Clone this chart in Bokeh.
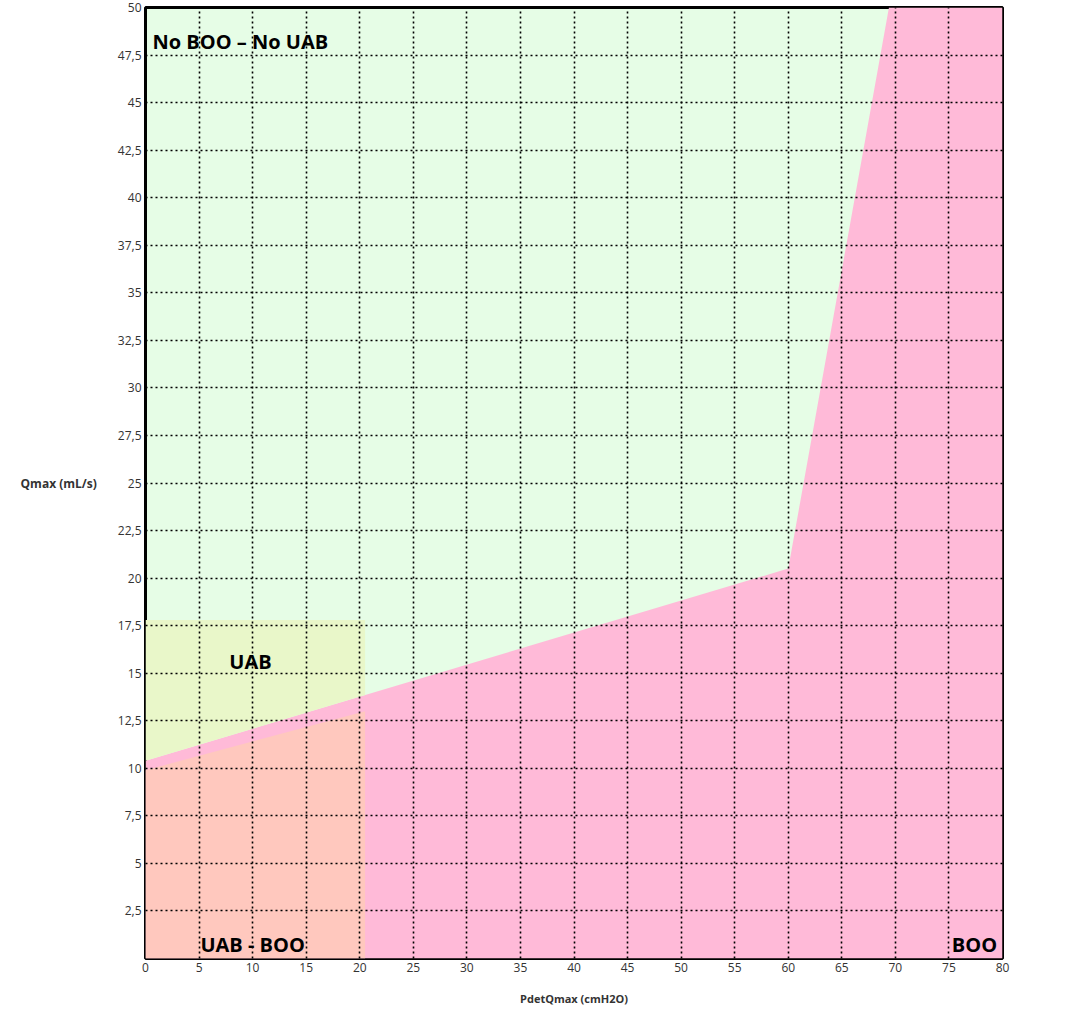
from bokeh.plotting import figure
from bokeh.models import FixedTicker, Label
from bokeh.embed import file_html
from bokeh.resources import INLINE

# --- data ---
x_ticks = [0, 5, 10, 15, 20, 25, 30, 35, 40, 45, 50, 55, 60, 65, 70, 75, 80]
y_ticks = [2.5, 5, 7.5, 10, 12.5, 15, 17.5, 20, 22.5, 25, 27.5, 30, 32.5, 35,
           37.5, 40, 42.5, 45, 47.5, 50]
y_tick_labels = {v: (str(v).replace(".", ",") if v % 1 else str(int(v))) for v in y_ticks}
x_grid = [5, 10, 15, 20, 25, 30, 35, 40, 45, 50, 55, 60, 65, 70, 75]
y_grid = [2.5, 5, 7.5, 10, 12.5, 15, 17.5, 20, 22.5, 25, 27.5, 30, 32.5, 35,
          37.5, 40, 42.5, 45, 47.5]

# BOO region (below/right of boundary)
boo_x = [0, 60, 69.4, 80, 80, 0]
boo_y = [10.4, 20.5, 50, 50, 0, 0]
# UAB region
uab_x = [0, 20.5, 20.5, 0]
uab_y = [10.4, 13.85, 17.8, 17.8]
# UAB - BOO region
uabboo_x = [0, 20.5, 20.5, 0]
uabboo_y = [0, 0, 13.0, 9.9]

region_labels = ["No BOO \u2013 No UAB", "UAB", "UAB - BOO", "BOO"]
label_x = [0.65, 9.8, 10.0, 79.5]
label_y = [48.2, 15.6, 0.75, 0.75]
label_align = ["left", "center", "center", "right"]

p = figure(width=1072, height=1013, x_range=(0, 80), y_range=(0, 50),
           output_backend="svg", toolbar_location=None,
           min_border_left=145, min_border_top=7, min_border_right=70,
           min_border_bottom=55)
p.background_fill_color = "#E6FDE6"
p.border_fill_color = "white"
p.outline_line_color = "black"
p.outline_line_width = 3

p.patch(boo_x, boo_y, fill_color="#FFBAD8", line_color=None)
p.patch(uab_x, uab_y, fill_color="#E9F7C9", line_color=None)
p.patch(uabboo_x, uabboo_y, fill_color="#FFC8BE", line_color=None)

for t, lx, ly, al in zip(region_labels, label_x, label_y, label_align):
    p.add_layout(Label(x=lx, y=ly, text=t, text_font="Open Sans",
                       text_font_style="bold", text_font_size="20px",
                       text_align=al, text_baseline="middle", text_color="black"))

p.xaxis.ticker = FixedTicker(ticks=x_ticks)
p.yaxis.ticker = FixedTicker(ticks=y_ticks)
p.yaxis.major_label_overrides = y_tick_labels
p.xgrid.ticker = FixedTicker(ticks=x_grid)
p.ygrid.ticker = FixedTicker(ticks=y_grid)
for g in (p.xgrid, p.ygrid):
    g.grid_line_color = "black"
    g.grid_line_dash = "2 3"
    g.grid_line_width = 1.6
    g.level = "overlay"

for ax in (p.xaxis, p.yaxis):
    ax.axis_line_color = None
    ax.major_tick_line_color = None
    ax.minor_tick_line_color = None
    ax.major_tick_out = 0
    ax.major_tick_in = 0
    ax.minor_tick_out = 0
    ax.major_label_text_font = "Open Sans"
    ax.major_label_text_font_size = "12px"
    ax.major_label_text_color = "#333333"
    ax.axis_label_text_font = "Open Sans"
    ax.axis_label_text_font_style = "bold"
    ax.axis_label_text_color = "#333333"

p.xaxis.axis_label = "PdetQmax (cmH2O)"
p.xaxis.axis_label_text_font_size = "11px"
p.xaxis.major_label_standoff = 4
p.xaxis.axis_label_standoff = 16
p.yaxis.axis_label = "Qmax (mL/s)"
p.yaxis.axis_label_text_font_size = "12px"
p.yaxis.axis_label_orientation = "horizontal"
p.yaxis.major_label_standoff = 4
p.yaxis.axis_label_standoff = 18

open("out.html", "w").write(file_html(p, INLINE))
